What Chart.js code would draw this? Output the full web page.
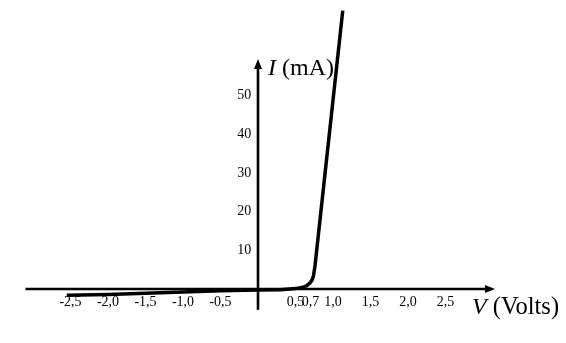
<!DOCTYPE html>
<html>
<head>
<meta charset="utf-8">
<script src="https://cdn.jsdelivr.net/npm/chart.js@4/dist/chart.umd.min.js"></script>
<style>
  html, body { margin: 0; padding: 0; background: #ffffff; }
  #wrap { width: 566px; height: 343px; position: relative; }
  canvas { display: block; }
</style>
</head>
<body>
<div id="wrap"><canvas id="c" width="566" height="343"></canvas></div>
<script>
// Diode I-V characteristic
const voltage = [-2.55, -2.0, -1.5, -1.0, -0.5, 0, 0.3, 0.5, 0.6, 0.65, 0.69, 0.72, 0.74, 0.76, 1.13];
const current = [-1.65, -1.4, -1.1, -0.75, -0.45, -0.25, -0.2, 0.1, 0.45, 0.85, 1.5, 2.3, 3.4, 6.0, 72];
const xTickValues = [-2.5, -2.0, -1.5, -1.0, -0.5, 0.5, 0.7, 1.0, 1.5, 2.0, 2.5];
const yTickValues = [10, 20, 30, 40, 50];
const xAxisTitle = ['V', ' (Volts)'];
const yAxisTitle = ['I', ' (mA)'];

const points = voltage.map((v, i) => ({ x: v, y: current[i] }));
const SERIF = '"Liberation Serif", "Times New Roman", serif';

const axesPlugin = {
  id: 'axesArrows',
  beforeDatasetsDraw(chart) {
    const { ctx } = chart;
    const xs = chart.scales.x, ys = chart.scales.y;
    const y0 = ys.getPixelForValue(0), x0 = xs.getPixelForValue(0);
    const xl = xs.getPixelForValue(-3.1), xr = xs.getPixelForValue(3.16);
    const yb = ys.getPixelForValue(-5.4), yt = ys.getPixelForValue(59.5);
    ctx.save();
    ctx.strokeStyle = '#000'; ctx.fillStyle = '#000'; ctx.lineWidth = 2.6;
    ctx.beginPath(); ctx.moveTo(xl, y0); ctx.lineTo(xr - 6, y0); ctx.stroke();
    ctx.beginPath(); ctx.moveTo(x0, yb); ctx.lineTo(x0, yt + 6); ctx.stroke();
    // arrow heads
    ctx.beginPath(); ctx.moveTo(xr, y0); ctx.lineTo(xr - 10, y0 - 4); ctx.lineTo(xr - 10, y0 + 4); ctx.closePath(); ctx.fill();
    ctx.beginPath(); ctx.moveTo(x0, yt); ctx.lineTo(x0 - 4, yt + 10); ctx.lineTo(x0 + 4, yt + 10); ctx.closePath(); ctx.fill();
    // axis titles
    ctx.textBaseline = 'alphabetic'; ctx.textAlign = 'left';
    let tx = x0 + 10, ty = yt + 16;
    ctx.font = 'italic 24px ' + SERIF; ctx.fillText(yAxisTitle[0], tx, ty);
    tx += ctx.measureText(yAxisTitle[0]).width;
    ctx.font = '24px ' + SERIF; ctx.fillText(yAxisTitle[1], tx, ty);
    tx = xr - 23; ty = y0 + 25;
    ctx.font = 'italic 24px ' + SERIF; ctx.fillText(xAxisTitle[0], tx, ty);
    tx += ctx.measureText(xAxisTitle[0]).width;
    ctx.font = '24.5px ' + SERIF; ctx.fillText(xAxisTitle[1], tx, ty);
    ctx.restore();
  }
};

new Chart(document.getElementById('c'), {
  type: 'scatter',
  data: {
    datasets: [{
      data: points,
      showLine: true,
      clip: false,
      borderColor: '#000',
      borderWidth: 3.5,
      pointRadius: 0,
      tension: 0,
      fill: false,
      borderJoinStyle: 'round',
      borderCapStyle: 'butt'
    }]
  },
  options: {
    responsive: false,
    maintainAspectRatio: false,
    animation: false,
    devicePixelRatio: 1,
    layout: { padding: 0 },
    plugins: { legend: { display: false }, tooltip: { enabled: false } },
    scales: {
      x: {
        type: 'linear',
        position: { y: 0 },
        min: -258 / 75,
        max: 308 / 75,
        grid: { display: false, drawTicks: false },
        border: { display: false },
        afterBuildTicks: s => { s.ticks = xTickValues.map(v => ({ value: v })); },
        ticks: {
          autoSkip: false,
          maxRotation: 0,
          padding: 5,
          color: '#000',
          font: { family: SERIF, size: 14 },
          callback: v => v.toFixed(1).replace('.', ',')
        }
      },
      y: {
        type: 'linear',
        position: { x: -0.09 },
        min: -46 / 3.9,
        max: 283 / 3.9,
        grid: { display: false, drawTicks: false },
        border: { display: false },
        afterBuildTicks: s => { s.ticks = yTickValues.map(v => ({ value: v })); },
        ticks: {
          autoSkip: false,
          padding: 0,
          color: '#000',
          font: { family: SERIF, size: 14 },
          callback: v => String(v)
        }
      }
    }
  },
  plugins: [axesPlugin]
});
</script>
</body>
</html>
